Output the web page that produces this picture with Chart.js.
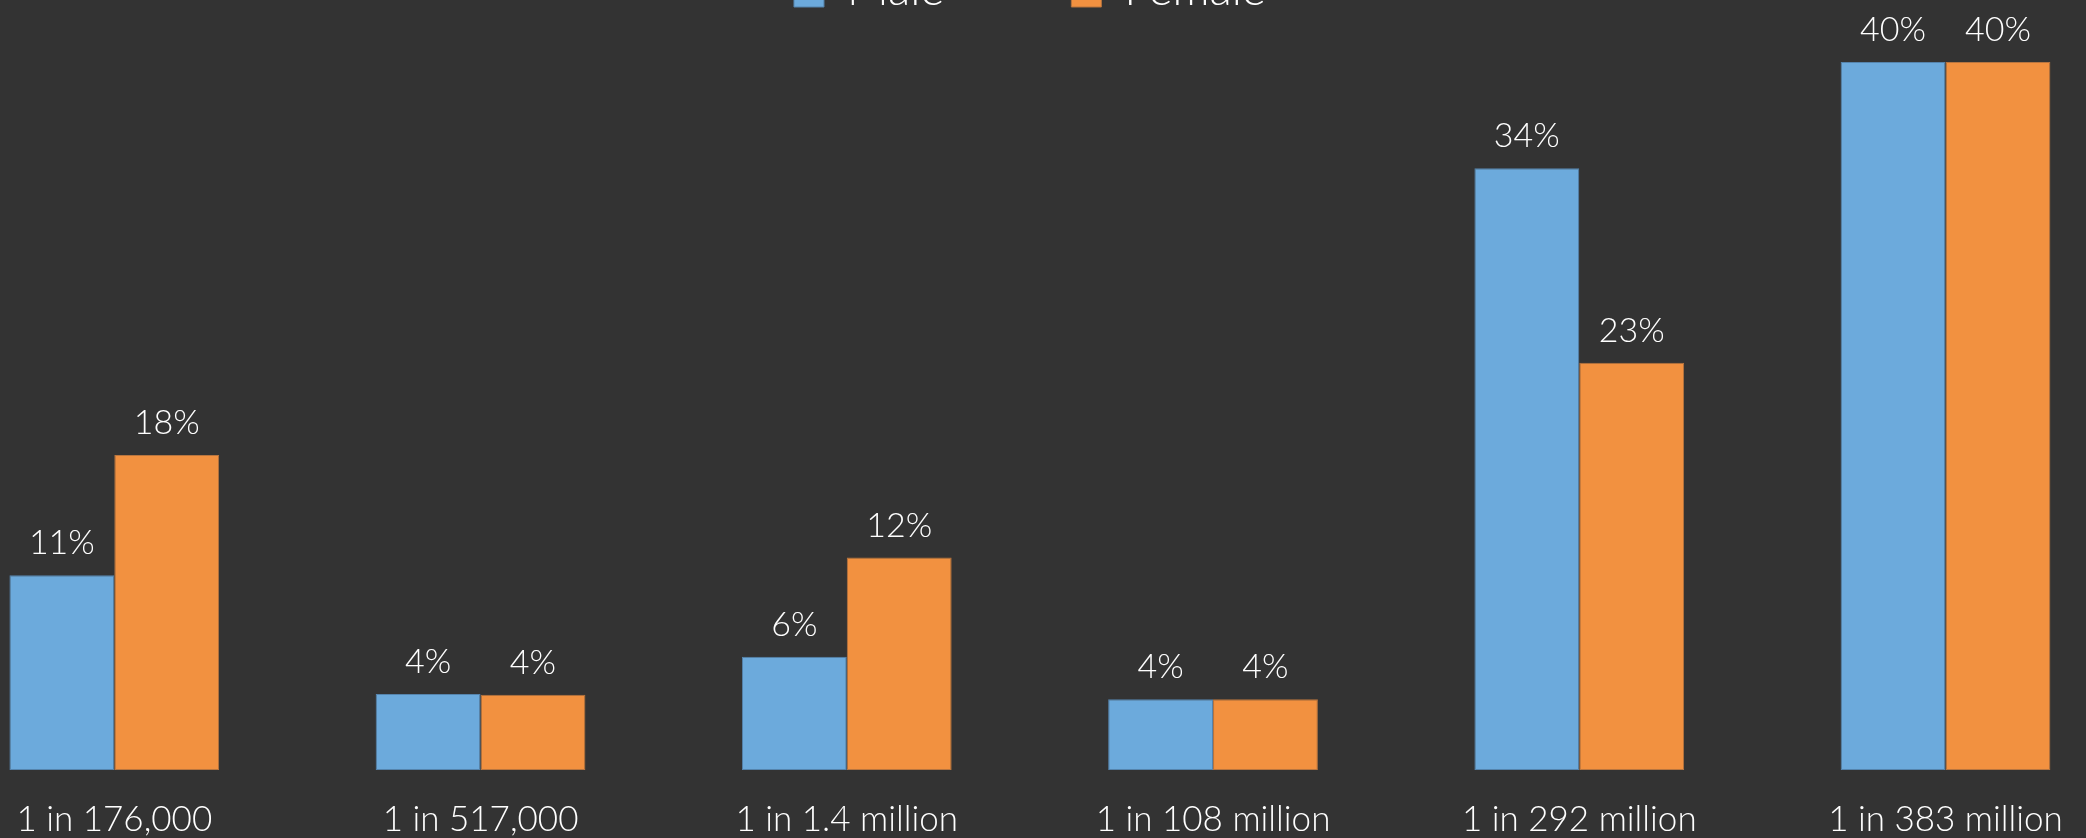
<!DOCTYPE html>
<html>
<head>
<meta charset="utf-8">
<script src="https://cdn.jsdelivr.net/npm/chart.js@4/dist/chart.umd.min.js"></script>
<style>
  html, body { margin: 0; padding: 0; background: #333333; overflow: hidden; width: 2086px; height: 838px; }
  #wrap { position: absolute; left: 0; top: -160px; width: 2086px; height: 998px; }
</style>
</head>
<body>
<div id="wrap"><canvas id="c" width="2086" height="998"></canvas></div>
<script>
// ---- data ----
const categories = ['1 in 176,000', '1 in 517,000', '1 in 1.4 million', '1 in 108 million', '1 in 292 million', '1 in 383 million'];
const seriesNames = ['Male', 'Female'];
const maleValues = [11, 4.3, 6.4, 4.0, 34, 40];
const femaleValues = [17.8, 4.25, 12, 4.0, 23, 40];

const FONT = 'Lato';
const TEXT = '#ffffff';

const valueLabels = {
  id: 'valueLabels',
  afterDatasetsDraw(chart) {
    const ctx = chart.ctx;
    ctx.save();
    ctx.font = '300 34px ' + FONT;
    ctx.fillStyle = TEXT;
    ctx.textAlign = 'center';
    ctx.textBaseline = 'alphabetic';
    chart.data.datasets.forEach((ds, i) => {
      const meta = chart.getDatasetMeta(i);
      meta.data.forEach((bar, j) => {
        ctx.fillText(Math.round(ds.data[j]) + '%', bar.x, bar.y - 21);
      });
    });
    ctx.restore();
  }
};

new Chart(document.getElementById('c'), {
  type: 'bar',
  data: {
    labels: categories,
    datasets: [
      { label: seriesNames[0], data: maleValues, backgroundColor: '#6CAADC', borderColor: '#5584ad', borderWidth: 1, borderSkipped: false, clip: false },
      { label: seriesNames[1], data: femaleValues, backgroundColor: '#F29140', borderColor: '#b8753f', borderWidth: 1, borderSkipped: false, clip: false }
    ]
  },
  options: {
    responsive: false,
    animation: false,
    devicePixelRatio: 1,
    layout: { padding: { left: 114.3, right: 140.5, top: 0, bottom: 0 } },
    plugins: {
      legend: {
        display: true,
        position: 'top',
        labels: {
          color: TEXT,
          font: { family: FONT, size: 46, weight: '300' },
          boxWidth: 30,
          boxHeight: 34,
          padding: 127
        }
      },
      tooltip: { enabled: false }
    },
    scales: {
      x: {
        offset: false,
        grid: { display: false, drawTicks: false },
        border: { display: false },
        ticks: { color: TEXT, font: { family: FONT, size: 35, weight: '300' }, padding: 29, maxRotation: 0, autoSkip: false },
        afterFit(scale) { scale.height = 68; scale.paddingLeft = 0; scale.paddingRight = 0; }
      },
      y: {
        display: false,
        min: 0,
        max: 42.2
      }
    },
    datasets: { bar: { categoryPercentage: 0.5727, barPercentage: 1 } }
  },
  plugins: [valueLabels]
});
</script>
</body>
</html>
